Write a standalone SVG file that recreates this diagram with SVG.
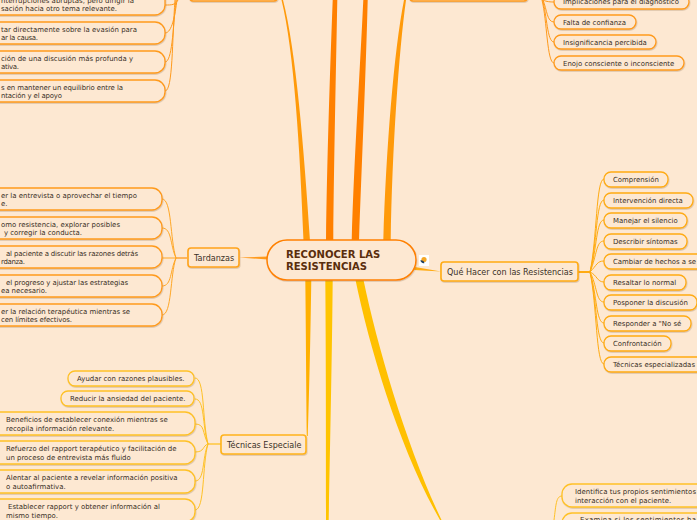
<svg xmlns="http://www.w3.org/2000/svg" width="697" height="520" viewBox="0 0 697 520">
<defs><filter id="sh" x="-10%" y="-20%" width="120%" height="150%"><feDropShadow dx="0.6" dy="1" stdDeviation="0.7" flood-color="#8a6a40" flood-opacity="0.3"/></filter></defs>
<style>
text{font-family:"DejaVu Sans",Verdana,sans-serif;fill:#3a3026}
.s{font-size:6.95px}
.m{font-size:8.05px}
.r{font-size:10.05px;font-weight:700;fill:#5a2d0c}
rect{filter:url(#sh)}
.o{fill:#fde8d2;stroke:#ff9a1c;stroke-width:1.3}
.a{fill:#fde8d2;stroke:#ffab12;stroke-width:1.3}
.y{fill:#fde8d2;stroke:#ffc126;stroke-width:1.3}
.p{fill:#fde8d2;stroke:#ff8000;stroke-width:1.5}
.b{fill:#fde8d2;stroke-width:1.6}
.c{fill:none;stroke-width:1}
</style>
<rect width="697" height="520" fill="#fde8d2" style="filter:none"/>
<g id="connectors">
<path d="M303.5 241C300 150 294 50 281.5 0H283C296 50 304 150 310 241Z" fill="#ff9a0a"/>
<path d="M326 241C327 160 330 70 332.7 0H337.3C336 70 334 160 333.3 241Z" fill="#ff8000"/>
<path d="M351.7 241C354 160 360 70 363.3 0H367.7C366 70 362 160 359 241Z" fill="#ff8000"/>
<path d="M383.3 241C386 150 394 50 404 0H406C399 50 392 150 390.7 241Z" fill="#ff9a0a"/>
<path d="M305.3 279C306 340 306.3 400 306.8 436H307.8C309 400 310.5 340 311.3 279Z" fill="#ffb000"/>
<path d="M325.3 279C326 360 326 450 326 520H328.7C330 450 332 360 332.7 279Z" fill="#ffc400"/>
<path d="M355.3 279C370 350 400 450 440 520H441.5C408 450 378 350 363.3 279Z" fill="#ffc000"/>
<path d="M239 257.6L268 256.5L268 259.500Z" fill="#ff9a1c"/>
<path d="M441 271.5L415 267L414 270Z" fill="#ffab12"/>
<g fill="none">
<path d="M187 258H176" stroke="#ff9a1c" stroke-width="1.3"/>
<path d="M578 272H590" stroke="#ffab12" stroke-width="2"/>
<path d="M221 444H208" stroke="#ffc126" stroke-width="1.3"/>
<path class="c" stroke="#ffa726" d="M176 258C170 240 172 199 162 199M176 258C170 245 172 228 162 228M176 258H162M176 258C170 270 172 286 162 286M176 258C170 275 172 315 162 315"/>
<path class="c" stroke="#ffab12" d="M590 272C597 240 596 179 604 179M590 272C597 245 596 200 604 200M590 272C597 250 596 220 604 220M590 272C597 255 596 241 604 241M590 272C597 265 597 261 604 261M590 272C597 275 597 282 604 282M590 272C597 285 596 302 604 302M590 272C597 295 596 323 604 323M590 272C597 300 596 343 604 343M590 272C597 305 596 364 604 364"/>
<path class="c" stroke="#ffc126" d="M208 444C202 420 205 378 195 378M208 444C202 425 205 399 195 399M208 444C202 432 205 424 195 424M208 444C202 446 205 452 195 452M208 444C202 458 205 481 195 481M208 444C202 465 205 510 195 510"/>
<path class="c" stroke="#ff9a1c" d="M177 0C175 15 172 33 165 33M176 0C173 30 172 62 165 62M175 0C172 40 173 91 165 91M178 0C175 5 172 5 165 5"/>
<path class="c" stroke="#ff9a1c" d="M543 0C547 10 547 22 554 22M542.500 0C547 15 547 42 554 42M542 0C547 20 547 63 554 63M543 0C545 1 548 2 554 2"/>
<path class="c" stroke="#ffc126" d="M554 520C556 505 556 496 562 496"/>
</g>
</g>
<g id="central"><rect class="p" x="267" y="240" width="149" height="40" rx="20"/><text class="r" x="286" y="258">RECONOCER LAS</text><text class="r" x="286" y="270">RESISTENCIAS</text></g>
<g id="top-left"><rect class="b" stroke="#ff9a1c" x="190" y="-12" width="87" height="13" rx="3"/></g>
<g id="top-right"><rect class="b" stroke="#ff9a1c" x="410" y="-12" width="117" height="13" rx="3"/></g>
<g id="tardanzas"><rect class="b" stroke="#ffa31a" x="188" y="248" width="51" height="19" rx="3"/><text class="m" x="194" y="261">Tardanzas</text></g>
<g id="que-hacer"><rect class="b" stroke="#ffab12" x="441" y="262" width="137" height="19" rx="3"/><text class="m" x="447" y="275">Qué Hacer con las Resistencias</text></g>
<g id="tecnicas"><rect class="b" stroke="#ffb31a" x="221" y="435" width="85" height="19" rx="3"/><text class="m" x="227" y="448">Técnicas Especiale</text></g>
<g id="t1"><rect class="o" x="-20" y="-14" width="185" height="29" rx="10"/><text class="s" x="1" y="3" textLength="133">nterrupciones abruptas, pero dirigir la</text><text class="s" x="1" y="11" textLength="116">sación hacia otro tema relevante.</text></g>
<g id="t2"><rect class="o" x="-20" y="22" width="185" height="22" rx="10"/><text class="s" x="1" y="32" textLength="136">tar directamente sobre la evasión para</text><text class="s" x="1" y="40" textLength="37">ar la causa.</text></g>
<g id="t3"><rect class="o" x="-20" y="51" width="185" height="22" rx="10"/><text class="s" x="1" y="61" textLength="132">ción de una discusión más profunda y</text><text class="s" x="1" y="69" textLength="18">ativa.</text></g>
<g id="t4"><rect class="o" x="-20" y="80" width="185" height="22" rx="10"/><text class="s" x="1" y="90" textLength="122">s en mantener un equilibrio entre la</text><text class="s" x="1" y="98" textLength="61">ntación y el apoyo</text></g>
<g id="d1"><rect class="o" x="-20" y="188" width="182" height="22" rx="10"/><text class="s" x="1" y="198" textLength="136">er la entrevista o aprovechar el tiempo</text><text class="s" x="1" y="206">e.</text></g>
<g id="d2"><rect class="o" x="-20" y="217" width="182" height="22" rx="10"/><text class="s" x="1" y="227" textLength="119">omo resistencia, explorar posibles</text><text class="s" x="4" y="235" textLength="78">y corregir la conducta.</text></g>
<g id="d3"><rect class="o" x="-20" y="246" width="182" height="22" rx="10"/><text class="s" x="6" y="256" textLength="132">al paciente a discutir las razones detrás</text><text class="s" x="1" y="264" textLength="24">rdanza.</text></g>
<g id="d4"><rect class="o" x="-20" y="275" width="182" height="22" rx="10"/><text class="s" x="6" y="285" textLength="122">el progreso y ajustar las estrategias</text><text class="s" x="1" y="293" textLength="46">ea necesario.</text></g>
<g id="d5"><rect class="o" x="-20" y="304" width="182" height="22" rx="10"/><text class="s" x="1" y="314" textLength="129">er la relación terapéutica mientras se</text><text class="s" x="1" y="322" textLength="71">cen límites efectivos.</text></g>
<g id="e1"><rect class="y" x="68" y="371" width="126" height="15" rx="7"/><text class="s" x="77" y="381">Ayudar con razones plausibles.</text></g>
<g id="e2"><rect class="y" x="61" y="391" width="133" height="15" rx="7"/><text class="s" x="70" y="401">Reducir la ansiedad del paciente.</text></g>
<g id="e3"><rect class="y" x="-20" y="412" width="215" height="23" rx="10"/><text class="s" x="6" y="422">Beneficios de establecer conexión mientras se</text><text class="s" x="6" y="431">recopila información relevante.</text></g>
<g id="e4"><rect class="y" x="-20" y="441" width="215" height="23" rx="10"/><text class="s" x="6" y="451">Refuerzo del rapport terapéutico y facilitación de</text><text class="s" x="6" y="460">un proceso de entrevista más fluido</text></g>
<g id="e5"><rect class="y" x="-20" y="470" width="215" height="23" rx="10"/><text class="s" x="6" y="480">Alentar al paciente a revelar información positiva</text><text class="s" x="6" y="489">o autoafirmativa.</text></g>
<g id="e6"><rect class="y" x="-20" y="499" width="215" height="23" rx="10"/><text class="s" x="8" y="509">Establecer rapport y obtener información al</text><text class="s" x="6" y="518">mismo tiempo.</text></g>
<g id="f0"><rect class="o" x="554" y="-5" width="135" height="14" rx="7"/><text class="s" x="563" y="4">Implicaciones para el diagnóstico</text></g>
<g id="f1"><rect class="o" x="554" y="15" width="82" height="14" rx="7"/><text class="s" x="563" y="25">Falta de confianza</text></g>
<g id="f2"><rect class="o" x="554" y="35" width="102" height="14" rx="7"/><text class="s" x="563" y="45">Insignificancia percibida</text></g>
<g id="f3"><rect class="o" x="554" y="56" width="130" height="14" rx="7"/><text class="s" x="563" y="66">Enojo consciente o inconsciente</text></g>
<g id="q1"><rect class="a" x="604" y="172" width="64" height="15" rx="7"/><text class="s" x="613" y="182">Comprensión</text></g>
<g id="q2"><rect class="a" x="604" y="193" width="89" height="15" rx="7"/><text class="s" x="613" y="203">Intervención directa</text></g>
<g id="q3"><rect class="a" x="604" y="213" width="83" height="15" rx="7"/><text class="s" x="613" y="223">Manejar el silencio</text></g>
<g id="q4"><rect class="a" x="604" y="234" width="83" height="15" rx="7"/><text class="s" x="613" y="244">Describir síntomas</text></g>
<g id="q5"><rect class="a" x="604" y="254" width="110" height="15" rx="7"/><text class="s" x="613" y="264" textLength="83">Cambiar de hechos a se</text></g>
<g id="q6"><rect class="a" x="604" y="275" width="82" height="15" rx="7"/><text class="s" x="613" y="285">Resaltar lo normal</text></g>
<g id="q7"><rect class="a" x="604" y="295" width="93" height="15" rx="7"/><text class="s" x="613" y="305">Posponer la discusión</text></g>
<g id="q8"><rect class="a" x="604" y="316" width="87" height="15" rx="7"/><text class="s" x="613" y="326">Responder a "No sé</text></g>
<g id="q9"><rect class="a" x="604" y="336" width="67" height="15" rx="7"/><text class="s" x="613" y="346">Confrontación</text></g>
<g id="q10"><rect class="a" x="604" y="357" width="110" height="15" rx="7"/><text class="s" x="613" y="367" textLength="82">Técnicas especializadas</text></g>
<g id="g1"><rect class="y" x="562" y="484" width="160" height="23" rx="10"/><text class="s" x="575" y="494" textLength="121">Identifica tus propios sentimientos</text><text class="s" x="575" y="503">interacción con el paciente.</text></g>
<g id="g2"><rect class="y" x="562" y="513" width="160" height="23" rx="10"/><text class="s" x="580" y="522" textLength="116">Examina si los sentimientos ha</text></g>
<g id="icon"><rect x="419" y="255" width="10" height="11" fill="#fff" style="filter:none"/><circle cx="424" cy="259.500" r="2.600" fill="#f5a623"/><path d="M420.500 260a3 3 0 0 0 4 3l-1-2z" fill="#1d3d5c"/></g>
</svg>
